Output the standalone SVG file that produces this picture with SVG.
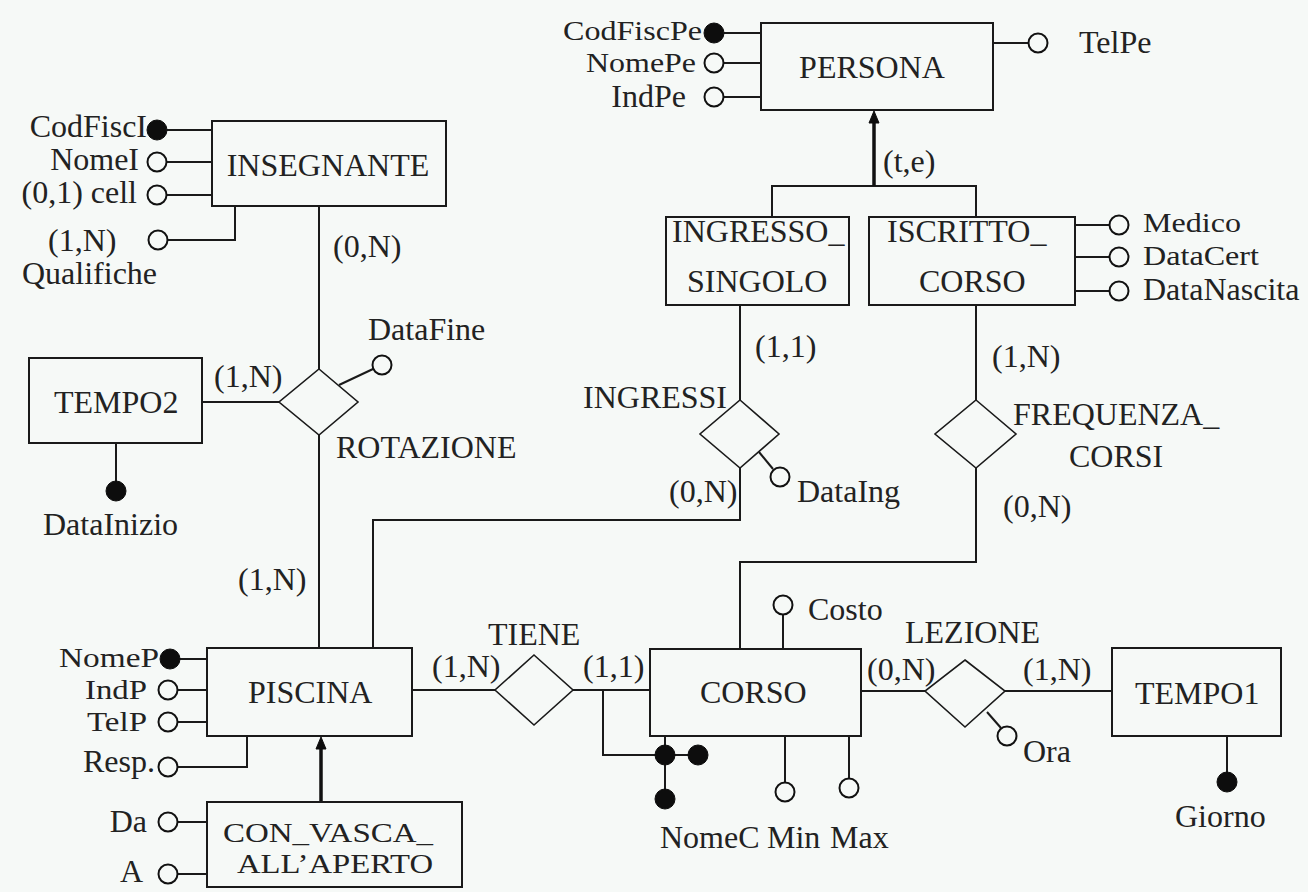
<svg xmlns="http://www.w3.org/2000/svg" width="1308" height="892" viewBox="0 0 1308 892">
<style>
text{font-family:"Liberation Serif","Times New Roman",serif;font-size:32px;fill:#222}
text.s{font-size:28px}
.e{fill:none;stroke:#1a1a1a;stroke-width:2}
.r{fill:none;stroke:#1a1a1a;stroke-width:1.6}
.l{fill:none;stroke:#1a1a1a;stroke-width:2}
.isa{fill:none;stroke:#111;stroke-width:3.5}
.o{fill:#f6f9f7;stroke:#111;stroke-width:2}
.k{fill:#0d0d0d;stroke:#0d0d0d;stroke-width:1}
.end{text-anchor:end}
</style>
<rect width="1308" height="892" fill="#f6f9f7"/>
<g id="connectors">
<path class="l" d="M319 206V369M319 435V648M202 402H279"/>
<path class="l" d="M740 305V400M740 468V520H373V648"/>
<path class="l" d="M976 305V400M976 468V562H740V649"/>
<path class="l" d="M412 690H495M573 690H650"/>
<path class="l" d="M861 691H925M1005 691H1112"/>
<path class="l" d="M772 217V186H976V217"/>
<path class="isa" d="M874 186V120"/>
<polygon class="k" points="874,111 869,123 879,123"/>
<path class="isa" d="M321 802V746"/>
<polygon class="k" points="321,737 316,749 326,749"/>
<path class="l" d="M603 690V755H698M665 736V799"/>
</g>
<g id="INSEGNANTE">
<rect class="e" x="212" y="121" width="234" height="85"/>
<text x="328" y="176" text-anchor="middle">INSEGNANTE</text>
<path class="l" d="M167 130H212M167 162H212M167 195H212M168 240H235V206"/>
<circle class="k" cx="157" cy="130" r="10"/>
<circle class="o" cx="157" cy="162" r="9.5"/>
<circle class="o" cx="157" cy="195" r="9.5"/>
<circle class="o" cx="158" cy="240" r="9.5"/>
<text class="end" x="147" y="137">CodFiscI</text>
<text class="end" x="139" y="170">NomeI</text>
<text class="end" x="137" y="203">(0,1) cell</text>
<text x="48" y="251">(1,N)</text>
<text x="22" y="284">Qualifiche</text>
<text x="333" y="257">(0,N)</text>
</g>
<g id="PERSONA">
<rect class="e" x="761" y="23" width="232" height="87"/>
<text x="872" y="78" text-anchor="middle">PERSONA</text>
<path class="l" d="M724 33H761M724 63H761M724 97H761M993 43H1028"/>
<circle class="k" cx="714" cy="33" r="10"/>
<circle class="o" cx="714" cy="63" r="9.5"/>
<circle class="o" cx="714" cy="97" r="9.5"/>
<circle class="o" cx="1038" cy="43" r="9.5"/>
<text class="end s" x="702" y="40" textLength="139" lengthAdjust="spacingAndGlyphs">CodFiscPe</text>
<text class="end s" x="696" y="72" textLength="110" lengthAdjust="spacingAndGlyphs">NomePe</text>
<text class="end" x="686" y="107">IndPe</text>
<text x="1079" y="53">TelPe</text>
<text x="883" y="172">(t,e)</text>
</g>
<g id="INGRESSO_SINGOLO">
<rect class="e" x="666" y="217" width="183" height="88"/>
<text x="672" y="242">INGRESSO_</text>
<text x="687" y="292">SINGOLO</text>
</g>
<g id="ISCRITTO_CORSO">
<rect class="e" x="869" y="217" width="206" height="88"/>
<text x="887" y="242">ISCRITTO_</text>
<text x="919" y="292">CORSO</text>
<path class="l" d="M1075 225H1110M1075 257H1110M1075 291H1110"/>
<circle class="o" cx="1119" cy="225" r="9.5"/>
<circle class="o" cx="1119" cy="257" r="9.5"/>
<circle class="o" cx="1119" cy="291" r="9.5"/>
<text class="s" x="1143" y="232" textLength="98" lengthAdjust="spacingAndGlyphs">Medico</text>
<text class="s" x="1143" y="265" textLength="116" lengthAdjust="spacingAndGlyphs">DataCert</text>
<text x="1143" y="300">DataNascita</text>
</g>
<g id="TEMPO2">
<rect class="e" x="29" y="358" width="173" height="85"/>
<text x="54" y="413">TEMPO2</text>
<path class="l" d="M116 443V491"/>
<circle class="k" cx="116" cy="491" r="10"/>
<text x="43" y="535">DataInizio</text>
</g>
<g id="ROTAZIONE">
<polygon class="r" points="319,369 358,402 319,435 279,402"/>
<path class="l" d="M339 385L373 369"/>
<circle class="o" cx="382" cy="365" r="9.5"/>
<text x="368" y="340">DataFine</text>
<text x="336" y="458">ROTAZIONE</text>
<text x="214" y="387">(1,N)</text>
<text x="238" y="590">(1,N)</text>
</g>
<g id="INGRESSI">
<polygon class="r" points="740,400 779,434 740,468 700,434"/>
<path class="l" d="M759 452L773 469"/>
<circle class="o" cx="780" cy="477" r="9.5"/>
<text x="583" y="408">INGRESSI</text>
<text x="797" y="502">DataIng</text>
<text x="755" y="357">(1,1)</text>
<text x="669" y="502">(0,N)</text>
</g>
<g id="FREQUENZA_CORSI">
<polygon class="r" points="976,400 1016,434 976,468 935,434"/>
<text x="1013" y="425">FREQUENZA_</text>
<text x="1069" y="467">CORSI</text>
<text x="992" y="367">(1,N)</text>
<text x="1003" y="517">(0,N)</text>
</g>
<g id="PISCINA">
<rect class="e" x="207" y="648" width="205" height="88"/>
<text x="248" y="703">PISCINA</text>
<path class="l" d="M170 659H207M178 690H207M178 722H207M178 767H247V736"/>
<circle class="k" cx="170" cy="659" r="10"/>
<circle class="o" cx="168" cy="690" r="9.5"/>
<circle class="o" cx="168" cy="722" r="9.5"/>
<circle class="o" cx="168" cy="767" r="9.5"/>
<text class="end s" x="159" y="667" textLength="100" lengthAdjust="spacingAndGlyphs">NomeP</text>
<text class="end s" x="147" y="699" textLength="62" lengthAdjust="spacingAndGlyphs">IndP</text>
<text class="end s" x="147" y="731" textLength="60" lengthAdjust="spacingAndGlyphs">TelP</text>
<text class="end" x="155" y="772">Resp.</text>
</g>
<g id="CON_VASCA_ALL_APERTO">
<rect class="e" x="207" y="802" width="255" height="85"/>
<text class="s" x="223" y="842" textLength="210" lengthAdjust="spacingAndGlyphs">CON_VASCA_</text>
<text class="s" x="237" y="873" textLength="196" lengthAdjust="spacingAndGlyphs">ALL’APERTO</text>
<path class="l" d="M178 822H207M178 874H207"/>
<circle class="o" cx="168" cy="822" r="9.5"/>
<circle class="o" cx="168" cy="874" r="9.5"/>
<text class="end" x="147" y="832">Da</text>
<text class="end" x="143" y="882">A</text>
</g>
<g id="TIENE">
<polygon class="r" points="534,655 573,690 534,725 495,690"/>
<text x="488" y="645">TIENE</text>
<text x="432" y="677">(1,N)</text>
<text x="583" y="677">(1,1)</text>
</g>
<g id="CORSO">
<rect class="e" x="650" y="649" width="211" height="87"/>
<text x="700" y="703">CORSO</text>
<path class="l" d="M783 615V649M785 736V782M849 736V778"/>
<circle class="o" cx="783" cy="605" r="9.5"/>
<circle class="o" cx="785" cy="792" r="9.5"/>
<circle class="o" cx="849" cy="788" r="9.5"/>
<circle class="k" cx="665" cy="755" r="10"/>
<circle class="k" cx="698" cy="755" r="10"/>
<circle class="k" cx="665" cy="799" r="10"/>
<text x="808" y="620">Costo</text>
<text x="660" y="848">NomeC</text>
<text x="767" y="848">Min</text>
<text x="830" y="848">Max</text>
</g>
<g id="LEZIONE">
<polygon class="r" points="965,660 1005,691 965,727 925,691"/>
<path class="l" d="M987 712L1001 728"/>
<circle class="o" cx="1007" cy="736" r="9.5"/>
<text x="905" y="643">LEZIONE</text>
<text x="867" y="680">(0,N)</text>
<text x="1023" y="680">(1,N)</text>
<text x="1023" y="762">Ora</text>
</g>
<g id="TEMPO1">
<rect class="e" x="1112" y="648" width="169" height="88"/>
<text x="1135" y="704">TEMPO1</text>
<path class="l" d="M1227 736V782"/>
<circle class="k" cx="1227" cy="782" r="10"/>
<text x="1175" y="827">Giorno</text>
</g>
</svg>
